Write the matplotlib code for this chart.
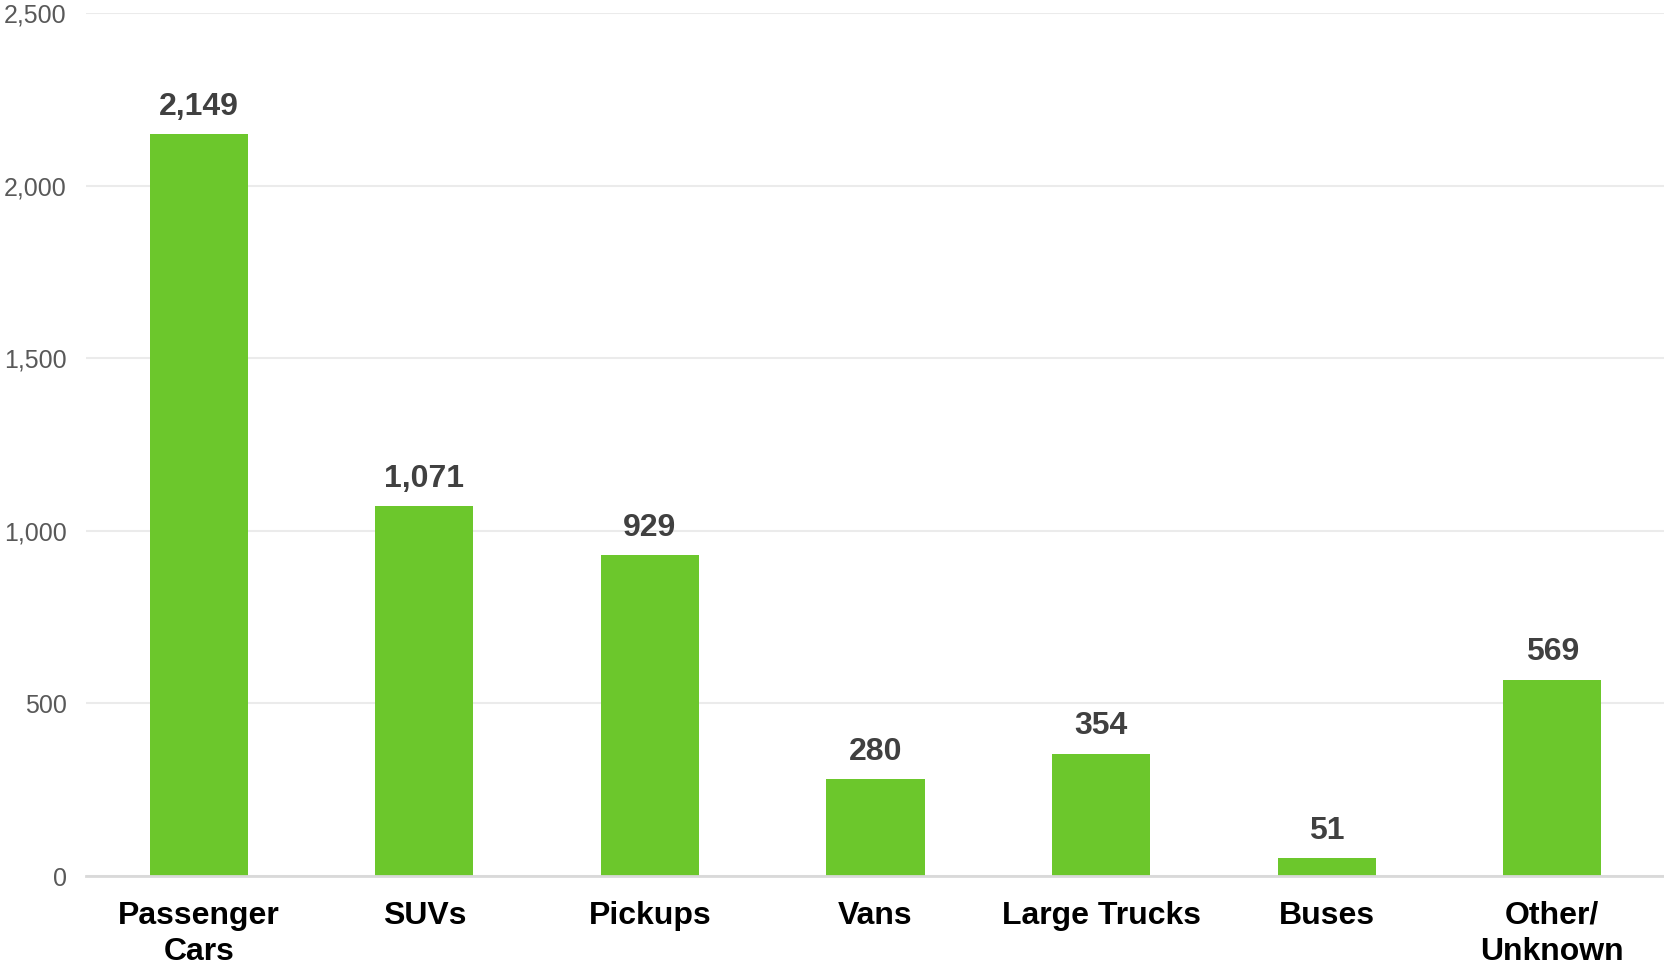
import numpy as np
import matplotlib.pyplot as plt
from matplotlib.ticker import FuncFormatter

# Chart data
categories = ['Passenger\nCars', 'SUVs', 'Pickups', 'Vans', 'Large Trucks', 'Buses', 'Other/\nUnknown']
values = [2149, 1071, 929, 280, 354, 51, 569]
yticks = [0, 500, 1000, 1500, 2000, 2500]

BAR_COLOR = '#6cc72c'

plt.rcParams['font.family'] = ['Liberation Sans', 'DejaVu Sans']

fig = plt.figure(figsize=(16.65, 9.66), dpi=100)
ax = fig.add_axes([86 / 1665, 1 - 876 / 966, 1 - 86 / 1665, (876 - 13) / 966])

x = np.arange(len(categories))
bars = ax.bar(x, values, width=0.435, color=BAR_COLOR, zorder=3)

# value labels above bars
for b, v in zip(bars, values):
    ax.annotate(f'{v:,}', (b.get_x() + b.get_width() / 2, v),
                xytext=(0, 9), textcoords='offset points',
                ha='center', va='bottom', fontsize=23, fontweight='bold',
                color='#404040')

ax.set_xlim(-0.5, len(categories) - 0.5)
ax.set_ylim(0, 2500)
ax.set_yticks(yticks)
ax.yaxis.set_major_formatter(FuncFormatter(lambda v, p: f'{int(v):,}'))
ax.set_xticks(x)
ax.set_xticklabels(categories, fontsize=23, fontweight='bold', color='black',
                   linespacing=1.25)

ax.tick_params(axis='y', length=0, pad=14, labelsize=18, labelcolor='#595959')
ax.tick_params(axis='x', length=0, pad=18)

ax.grid(axis='y', color='#ebebeb', linewidth=1.5, zorder=0)
for side in ['top', 'right', 'left']:
    ax.spines[side].set_visible(False)
ax.spines['bottom'].set_color('#d9d9d9')
ax.spines['bottom'].set_linewidth(2)
ax.spines['bottom'].set_zorder(4)

fig.savefig('out.png', dpi=100)
